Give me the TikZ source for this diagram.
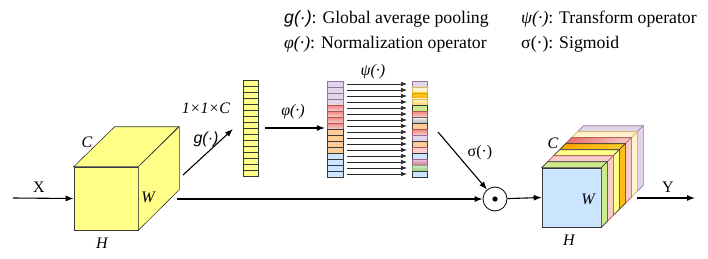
\documentclass[tikz,border=0pt]{standalone}
\usepackage{fontspec}
\setmainfont{Liberation Serif}
\setsansfont{Liberation Sans}
\usetikzlibrary{calc,arrows.meta}
\definecolor{cline}{HTML}{36393D}
\definecolor{cyellow}{HTML}{FFFF88}
\definecolor{cblue}{HTML}{CCE5FF}
\definecolor{cpurple}{HTML}{E1D5E7}
\definecolor{cpurpled}{HTML}{9673A6}
\definecolor{cpink}{HTML}{F8CECC}
\definecolor{cred}{HTML}{EA6B66}
\definecolor{credd}{HTML}{B85450}
\definecolor{corange}{HTML}{FFCC99}
\definecolor{cgreen}{HTML}{CDEB8B}
\definecolor{cgold}{HTML}{FFA500}
\definecolor{cgoldl}{HTML}{FFCD28}
\definecolor{cgoldd}{HTML}{D79B00}
\definecolor{ccream}{HTML}{FFF2CC}
\definecolor{ccreamd}{HTML}{D6B656}
\definecolor{cwheat}{HTML}{FFD966}
\definecolor{cgray}{HTML}{B3B3B3}
\definecolor{cgrayl}{HTML}{F5F5F5}
\definecolor{cgrayd}{HTML}{666666}
\definecolor{cmag}{HTML}{D5739D}
\definecolor{cmagl}{HTML}{E6D0DE}
\definecolor{cmagd}{HTML}{996185}
\definecolor{cleaf}{HTML}{97D077}
\definecolor{cleafl}{HTML}{D5E8D4}
\definecolor{cleafd}{HTML}{82B366}
\tikzset{
  face/.style={draw=cline, line width=0.6pt},
  cell/.style={draw=cline, line width=0.6pt, minimum width=15pt, minimum height=6pt, inner sep=0pt, outer sep=0pt},
  lbl/.style={inner sep=1pt, font=\fontsize{16}{18}\selectfont},
  leg/.style={inner sep=1pt, anchor=west, font=\fontsize{17.7}{20}\selectfont\rmfamily},
  flow/.style={->, line width=1.1pt},
  thinflow/.style={->, line width=0.6pt, black!85, >={Latex[length=6pt,width=4.5pt]}},
  k-yel/.style={fill=cyellow},
  k-pur/.style={fill=cpurple, draw=cpurpled},
  k-red/.style={top color=cred!85, bottom color=cpink, draw=credd},
  k-pink/.style={fill=cpink, draw=credd},
  k-orange/.style={fill=corange},
  k-blue/.style={fill=cblue},
  k-green/.style={fill=cgreen},
  k-gold/.style={top color=cgoldl, bottom color=cgold, draw=cgoldd},
  k-cream/.style={fill=ccream, draw=ccreamd},
  k-wheat/.style={top color=ccream, bottom color=cwheat, draw=ccreamd},
  k-gray/.style={top color=cgrayl, bottom color=cgray, draw=cgrayd},
  k-mag/.style={top color=cmagl, bottom color=cmag, draw=cmagd},
  k-leaf/.style={top color=cleafl, bottom color=cleaf, draw=cleafd},
  k-redtop/.style={left color=cred, right color=cpink, draw=credd},
  k-goldtop/.style={left color=cgold, right color=cgoldl},
  k-goldside/.style={fill=cgoldl!60!cgold},
}

\begin{document}
\begin{tikzpicture}[x=1pt, y=-1pt, >={Latex[length=8pt,width=6pt]}]
\useasboundingbox (0,0) rectangle (708,259);

% input cube
\node[face, fill=cyellow, minimum width=64pt, minimum height=63pt, inner sep=0pt] (xcube) at (106,198.5) {};
\filldraw[face, fill=cyellow] (xcube.north west) -- ++(41,-40) -- ++(64,0) -- (xcube.north east) -- cycle;
\filldraw[face, fill=cyellow] (xcube.north east) -- ++(41,-40) -- ++(0,63) -- (xcube.south east) -- cycle;
\node[lbl, font=\fontsize{16}{18}\selectfont\itshape] (xc) at (87,142) {C};
\node[lbl, font=\fontsize{16}{18}\selectfont\itshape] (xw) at (148,197) {W};
\node[lbl, font=\fontsize{16}{18}\selectfont\itshape] (xh) at (102,243) {H};

\coordinate (xin) at (13,198);
\draw[flow] (xin) -- (xcube.west);
\node[lbl] (xlab) at (39,187) {X};

% pooled vector
\node[minimum width=15pt, minimum height=96pt, inner sep=0pt] (gap) at (250.5,128) {};
\foreach \i in {0,...,15}
  \node[cell, k-yel] (g\i) at (250.5,83+6*\i) {};

\coordinate (gs) at (183,175);
\coordinate (ge) at (233,129);
\draw[flow] (gs) -- (ge);
\node[lbl, font=\fontsize{16}{18}\selectfont\itshape] (size) at (206,108) {1×1×C};
\node[lbl, font=\fontsize{16}{18}\selectfont\sffamily\itshape] (glab) at (206,139) {g(·)};

% normalized vector
\node[minimum width=16pt, minimum height=96pt, inner sep=0pt] (nbar) at (335,129) {};
\foreach \c [count=\i from 0] in {k-pur,k-pur,k-pur,k-pur,k-red,k-red,k-red,k-red,
    k-orange,k-orange,k-orange,k-orange,k-blue,k-blue,k-blue,k-blue}
  \node[cell, minimum width=16pt, \c] (n\i) at (335,84+6*\i) {};

\draw[flow, shorten <=7pt, shorten >=2pt] (gap.east) -- (gap.east -| nbar.west);
\node[lbl, font=\fontsize{16}{18}\selectfont\itshape] (philab) at (293,112) {φ(·)};

% transformed vector
\foreach \c [count=\i from 0] in {k-pur,k-cream,k-gold,k-wheat,k-green,k-red,k-gray,k-orange,
    k-red,k-pur,k-orange,k-pink,k-blue,k-mag,k-leaf,k-blue}
  \node[cell, \c] (t\i) at (419.5,84+6*\i) {};

\foreach \i in {0,...,15}
  \draw[thinflow, shorten <=4pt, shorten >=5pt] (n\i) -- (t\i);
\node[lbl, font=\fontsize{16}{18}\selectfont\itshape] (psilab) at (373,72) {ψ(·)};

% product
\node[draw, circle, line width=0.8pt, minimum size=24pt, inner sep=0pt] (mul) at (495,199) {};
\fill (mul.center) circle (2.6pt);

\coordinate (sgs) at (438,132);
\draw[flow] (sgs) -- (mul);
\node[lbl] (siglab) at (480,153) {σ(·)};

\coordinate (xout) at (177,199);
\draw[flow] (xout) -- (mul);

% output cube
\node[face, fill=cblue, minimum width=59pt, minimum height=59pt, inner sep=0pt] (ycube) at (571.5,197.5) {};
\foreach \k/\t/\s in {7/k-pur/k-pur, 6/k-cream/k-cream, 5/k-redtop/k-pink,
    4/k-goldtop/k-goldside, 3/k-yel/k-yel, 2/k-pink/k-pink, 1/k-green/k-green}
{
  \pgfmathsetmacro\a{(\k-1)*6}
  \pgfmathsetmacro\b{\k*6}
  \filldraw[face, \t] ([shift={(\a,-\a)}]ycube.north west) -- ([shift={(\b,-\b)}]ycube.north west)
    -- ([shift={(\b,-\b)}]ycube.north east) -- ([shift={(\a,-\a)}]ycube.north east) -- cycle;
  \filldraw[face, \s] ([shift={(\a,-\a)}]ycube.north east) -- ([shift={(\b,-\b)}]ycube.north east)
    -- ([shift={(\b,-\b)}]ycube.south east) -- ([shift={(\a,-\a)}]ycube.south east) -- cycle;
}
\node[lbl, font=\fontsize{16}{18}\selectfont\itshape] (yc) at (553,143) {C};
\node[lbl, font=\fontsize{16}{18}\selectfont\itshape] (yw) at (588,199) {W};
\node[lbl, font=\fontsize{16}{18}\selectfont\itshape] (yh) at (569,240) {H};

\draw[flow] (mul) -- (ycube.west);

\coordinate (yin) at (637,198);
\coordinate (yend) at (695,198);
\draw[flow] (yin) -- (yend);
\node[lbl] (ylab) at (668,187) {Y};

% legend
\node[leg] (leg-g) at (283,19) {{\sffamily\itshape g(·)}: Global average pooling};
\node[leg] (leg-phi) at (283,44) {{\itshape φ(·)}: Normalization operator};
\node[leg] (leg-psi) at (520,19) {{\itshape ψ(·)}: Transform operator};
\node[leg] (leg-sig) at (520,44) {σ(·): Sigmoid};

\end{tikzpicture}
\end{document}
